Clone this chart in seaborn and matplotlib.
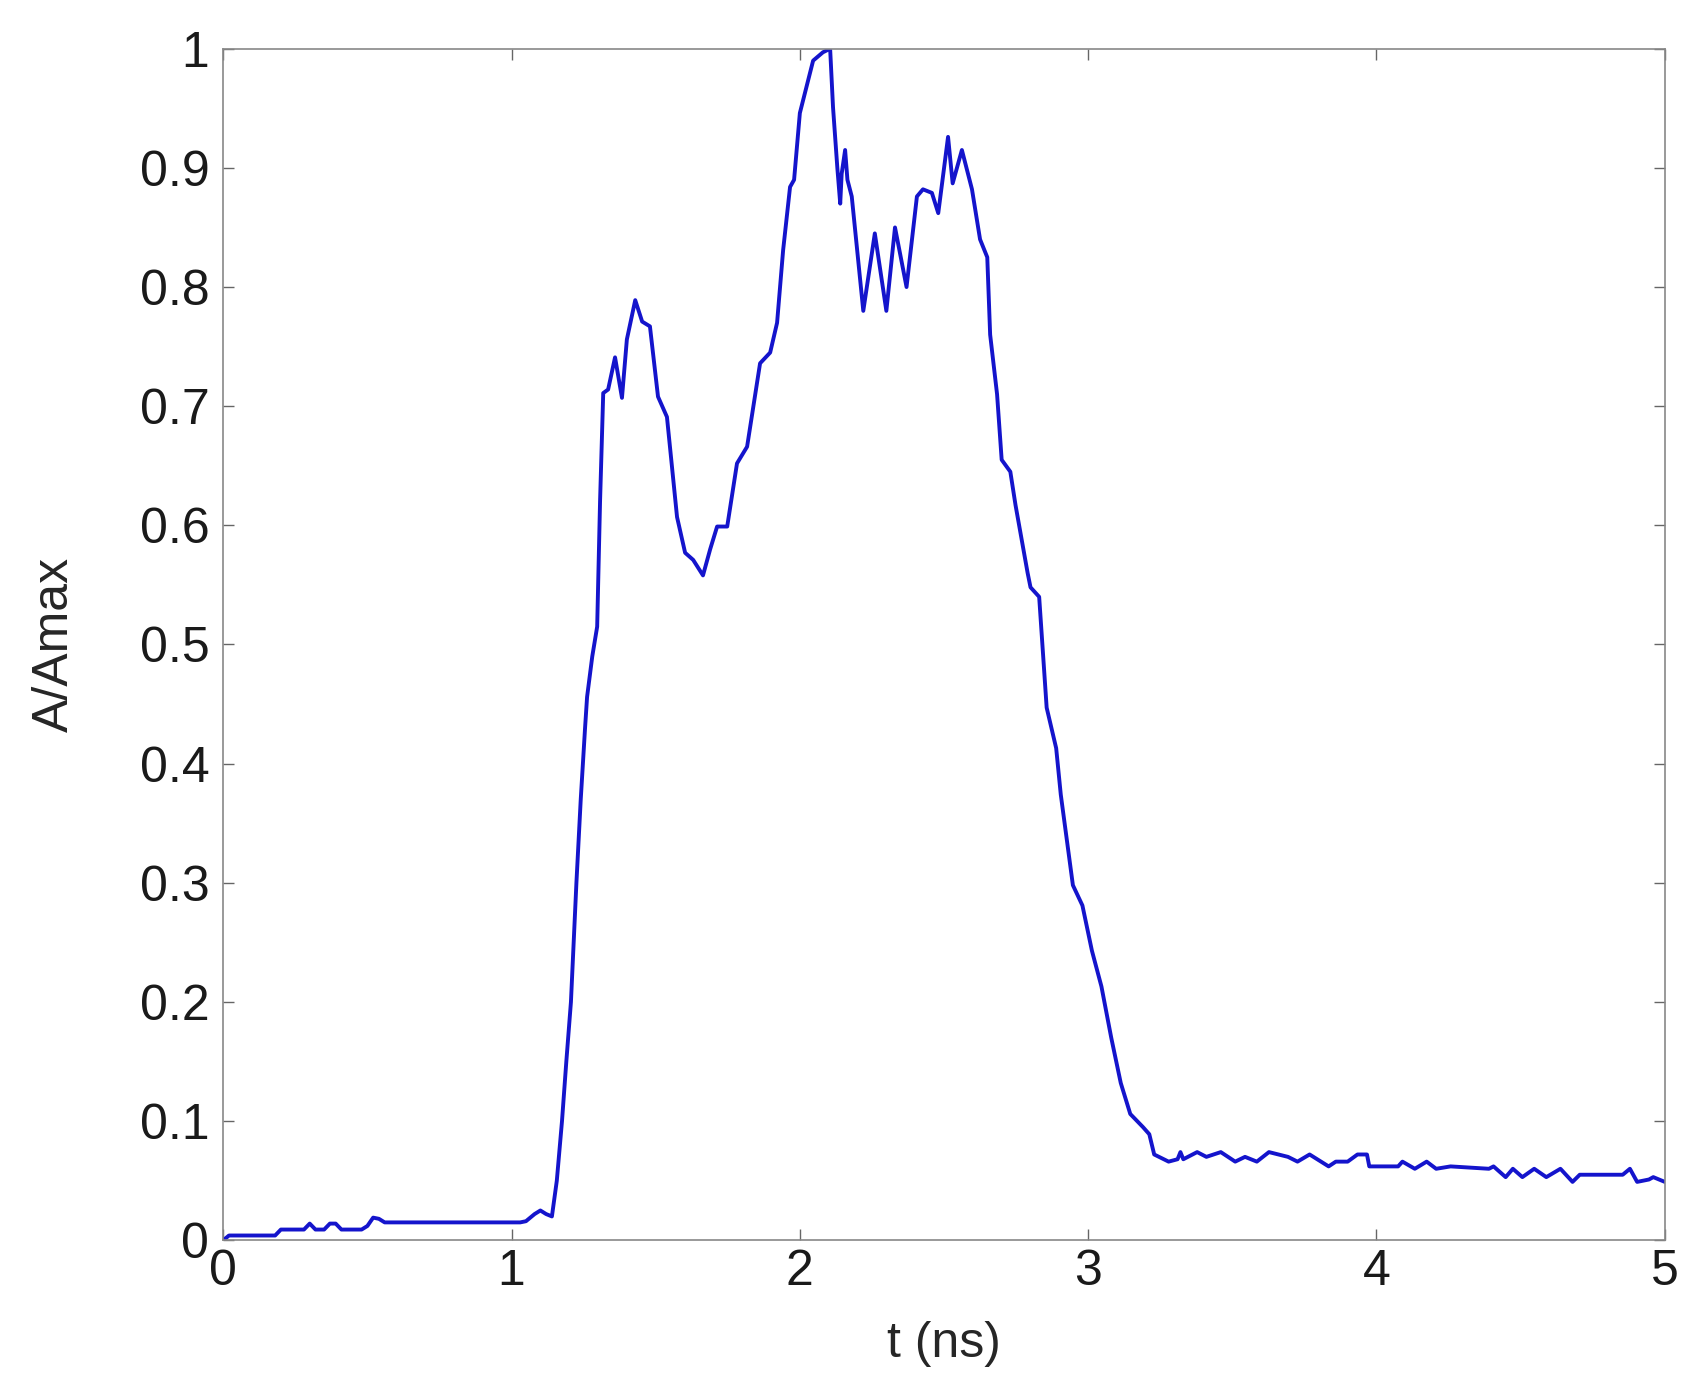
import matplotlib
matplotlib.use("Agg")
import matplotlib.pyplot as plt
import seaborn as sns
import pandas as pd

sns.set_theme(style="white")
plt.rcParams["font.family"] = ["Liberation Sans", "DejaVu Sans"]

# ------------------------------------------------------------
# data (rows of 10 values)
# ------------------------------------------------------------
t_ns = [
    0.00, 0.02, 0.18, 0.20, 0.28, 0.30, 0.32, 0.35, 0.37, 0.39,
    0.41, 0.48, 0.50, 0.52, 0.54, 0.56, 1.03, 1.05, 1.08, 1.10,
    1.12, 1.14, 1.157, 1.175, 1.19, 1.206, 1.225, 1.24, 1.255, 1.262,
    1.28, 1.297, 1.307, 1.318, 1.335, 1.359, 1.383, 1.40, 1.429, 1.453,
    1.48, 1.508, 1.539, 1.574, 1.602, 1.63, 1.664, 1.689, 1.713, 1.748,
    1.782, 1.817, 1.862, 1.897, 1.921, 1.942, 1.966, 1.98, 2.00, 2.046,
    2.08, 2.105, 2.115, 2.13, 2.14, 2.145, 2.157, 2.165, 2.18, 2.22,
    2.26, 2.30, 2.33, 2.37, 2.406, 2.427, 2.458, 2.48, 2.514, 2.53,
    2.562, 2.597, 2.625, 2.65, 2.66, 2.684, 2.70, 2.73, 2.748, 2.79,
    2.80, 2.83, 2.856, 2.889, 2.905, 2.947, 2.98, 3.013, 3.046, 3.08,
    3.113, 3.146, 3.19, 3.212, 3.229, 3.279, 3.31, 3.32, 3.33, 3.378,
    3.41, 3.46, 3.51, 3.544, 3.585, 3.627, 3.693, 3.726, 3.768, 3.834,
    3.859, 3.90, 3.934, 3.967, 3.975, 4.075, 4.09, 4.133, 4.174, 4.207,
    4.257, 4.39, 4.406, 4.448, 4.473, 4.506, 4.547, 4.589, 4.638, 4.68,
    4.705, 4.854, 4.879, 4.904, 4.945, 4.96, 5.00,
]

a_norm = [
    0.000, 0.004, 0.004, 0.009, 0.009, 0.014, 0.009, 0.009, 0.014, 0.014,
    0.009, 0.009, 0.012, 0.019, 0.018, 0.015, 0.015, 0.016, 0.022, 0.025,
    0.022, 0.020, 0.050, 0.100, 0.150, 0.200, 0.300, 0.370, 0.430, 0.456,
    0.490, 0.515, 0.620, 0.711, 0.714, 0.741, 0.707, 0.756, 0.789, 0.771,
    0.767, 0.708, 0.691, 0.607, 0.577, 0.571, 0.558, 0.580, 0.599, 0.599,
    0.652, 0.666, 0.736, 0.745, 0.770, 0.831, 0.884, 0.890, 0.946, 0.990,
    0.997, 1.000, 0.951, 0.900, 0.870, 0.895, 0.915, 0.890, 0.876, 0.780,
    0.845, 0.780, 0.850, 0.800, 0.876, 0.882, 0.879, 0.862, 0.926, 0.887,
    0.915, 0.882, 0.840, 0.825, 0.760, 0.710, 0.655, 0.645, 0.617, 0.560,
    0.548, 0.540, 0.447, 0.413, 0.374, 0.298, 0.281, 0.243, 0.213, 0.170,
    0.132, 0.106, 0.095, 0.089, 0.072, 0.066, 0.068, 0.074, 0.068, 0.074,
    0.070, 0.074, 0.066, 0.070, 0.066, 0.074, 0.070, 0.066, 0.072, 0.062,
    0.066, 0.066, 0.072, 0.072, 0.062, 0.062, 0.066, 0.060, 0.066, 0.060,
    0.062, 0.060, 0.062, 0.053, 0.060, 0.053, 0.060, 0.053, 0.060, 0.049,
    0.055, 0.055, 0.060, 0.049, 0.051, 0.053, 0.049,
]

x_ticks = [0, 1, 2, 3, 4, 5]
x_tick_labels = ["0", "1", "2", "3", "4", "5"]
y_ticks = [0.0, 0.1, 0.2, 0.3, 0.4, 0.5, 0.6, 0.7, 0.8, 0.9, 1.0]
y_tick_labels = ["0", "0.1", "0.2", "0.3", "0.4", "0.5", "0.6", "0.7",
                 "0.8", "0.9", "1"]

df = pd.DataFrame({"t": t_ns, "a": a_norm})

# ------------------------------------------------------------
# plot
# ------------------------------------------------------------
fig = plt.figure(figsize=(17.04, 13.92), dpi=100)
ax = fig.add_axes([0.131, 0.109, 0.846, 0.856])

sns.lineplot(data=df, x="t", y="a", ax=ax, color="#1414cc", linewidth=2.8)

ax.set_xlim(0, 5)
ax.set_ylim(0, 1)
ax.set_xticks(x_ticks)
ax.set_xticklabels(x_tick_labels)
ax.set_yticks(y_ticks)
ax.set_yticklabels(y_tick_labels)

ax.set_xlabel("t (ns)", fontsize=36, va="center")
ax.set_ylabel("A/Amax", fontsize=36, va="center")
ax.xaxis.set_label_coords(0.5, -0.087)
ax.yaxis.set_label_coords(-0.117, 0.5)

for s in ax.spines.values():
    s.set_color("#888888")
    s.set_linewidth(1.2)

ax.tick_params(direction="in", length=8, width=1, color="#666666",
               labelsize=36, labelcolor="#1a1a1a",
               top=True, right=True, bottom=True, left=True)
ax.tick_params(axis="x", pad=6)
ax.tick_params(axis="y", pad=10)

fig.savefig("out.png", dpi=100, facecolor="white")
plt.close(fig)
